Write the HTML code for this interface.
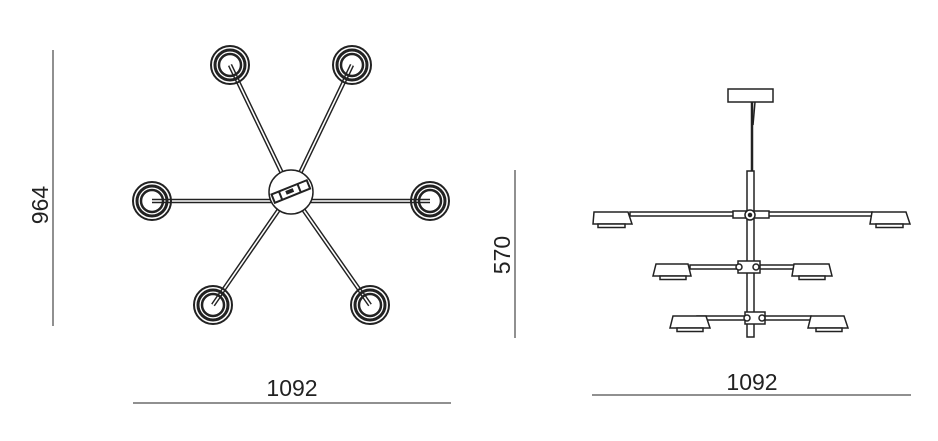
<!DOCTYPE html>
<html><head><style>body{margin:0;background:#fff}svg{display:block}</style></head><body>
<svg width="938" height="441" viewBox="0 0 938 441" xmlns="http://www.w3.org/2000/svg" font-family="Liberation Sans, sans-serif">
<g stroke="#222" fill="none">
<line x1="53" y1="50" x2="53" y2="326" stroke-width="1"/>
<line x1="133" y1="403" x2="451" y2="403" stroke-width="1"/>
<line x1="515" y1="170" x2="515" y2="338" stroke-width="1"/>
<line x1="592" y1="395" x2="911" y2="395" stroke-width="1"/>
<g stroke-width="4.5" stroke="#222">
<line x1="230" y1="65" x2="291" y2="192"/>
<line x1="352" y1="65" x2="291" y2="192"/>
<line x1="152" y1="201" x2="430" y2="201"/>
<line x1="213" y1="305" x2="291" y2="192"/>
<line x1="370" y1="305" x2="291" y2="192"/>
</g>
<g stroke-width="1.6" stroke="#fff">
<line x1="230" y1="65" x2="291" y2="192"/>
<line x1="352" y1="65" x2="291" y2="192"/>
<line x1="152" y1="201" x2="430" y2="201"/>
<line x1="213" y1="305" x2="291" y2="192"/>
<line x1="370" y1="305" x2="291" y2="192"/>
</g>
<circle cx="291" cy="192" r="22" fill="#fff" stroke-width="1.5"/>
<g transform="rotate(-22 291 192)"><rect x="272" y="187" width="38" height="9" fill="#fff" stroke-width="2"/><rect x="286" y="189" width="8" height="4" fill="#222" stroke="none"/><line x1="280" y1="187" x2="280" y2="196" stroke-width="2"/><line x1="300" y1="187" x2="300" y2="196" stroke-width="2"/></g>
<g stroke-width="3">
<g><circle cx="230" cy="65" r="19" stroke-width="2"/><circle cx="230" cy="65" r="15"/><circle cx="230" cy="65" r="11" stroke-width="2.5"/></g>
<g><circle cx="352" cy="65" r="19" stroke-width="2"/><circle cx="352" cy="65" r="15"/><circle cx="352" cy="65" r="11" stroke-width="2.5"/></g>
<g><circle cx="152" cy="201" r="19" stroke-width="2"/><circle cx="152" cy="201" r="15"/><circle cx="152" cy="201" r="11" stroke-width="2.5"/></g>
<g><circle cx="430" cy="201" r="19" stroke-width="2"/><circle cx="430" cy="201" r="15"/><circle cx="430" cy="201" r="11" stroke-width="2.5"/></g>
<g><circle cx="213" cy="305" r="19" stroke-width="2"/><circle cx="213" cy="305" r="15"/><circle cx="213" cy="305" r="11" stroke-width="2.5"/></g>
<g><circle cx="370" cy="305" r="19" stroke-width="2"/><circle cx="370" cy="305" r="15"/><circle cx="370" cy="305" r="11" stroke-width="2.5"/></g>
</g>
<g stroke-width="1.5">
<rect x="728" y="89" width="45" height="13" fill="#fff"/>
<line x1="752" y1="102" x2="752" y2="171" stroke-width="2.5"/>
<line x1="755" y1="102" x2="753" y2="125"/>
<rect x="747" y="171" width="7" height="166" fill="#fff"/>
<rect x="630" y="212" width="242" height="4" fill="#fff"/>
<rect x="733" y="211" width="36" height="7" fill="#fff"/>
<circle cx="750" cy="215" r="5" fill="#fff"/><circle cx="750" cy="215" r="1.5" fill="#222"/>
<path d="M594 212 H628 L632 224 H593 Z" fill="#fff"/><rect x="598" y="224" width="27" height="3.5" fill="#fff"/>
<path d="M872 212 H906 L910 224 H870 Z" fill="#fff"/><rect x="876" y="224" width="27" height="3.5" fill="#fff"/>
<rect x="690" y="265" width="104" height="4" fill="#fff"/>
<rect x="738" y="261" width="22" height="12" fill="#fff"/>
<circle cx="739" cy="267" r="3" fill="#fff"/><circle cx="756" cy="267" r="3" fill="#fff"/>
<path d="M656 264 H688 L691 276 H653 Z" fill="#fff"/><rect x="660" y="276" width="26" height="3.5" fill="#fff"/>
<path d="M794 264 H829 L832 276 H792 Z" fill="#fff"/><rect x="799" y="276" width="26" height="3.5" fill="#fff"/>
<rect x="697" y="316" width="114" height="4" fill="#fff"/>
<rect x="745" y="312" width="20" height="12" fill="#fff"/>
<circle cx="747" cy="318" r="3" fill="#fff"/><circle cx="762" cy="318" r="3" fill="#fff"/>
<path d="M673 316 H706 L710 328 H670 Z" fill="#fff"/><rect x="677" y="328" width="26" height="3.5" fill="#fff"/>
<path d="M811 316 H844 L848 328 H808 Z" fill="#fff"/><rect x="816" y="328" width="26" height="3.5" fill="#fff"/>
</g>
</g>
<g fill="#222" font-size="23">
<text x="292" y="396" text-anchor="middle">1092</text>
<text x="752" y="390" text-anchor="middle">1092</text>
<text transform="translate(48 205) rotate(-90)" text-anchor="middle">964</text>
<text transform="translate(510 255) rotate(-90)" text-anchor="middle">570</text>
</g>
</svg>
</body></html>
